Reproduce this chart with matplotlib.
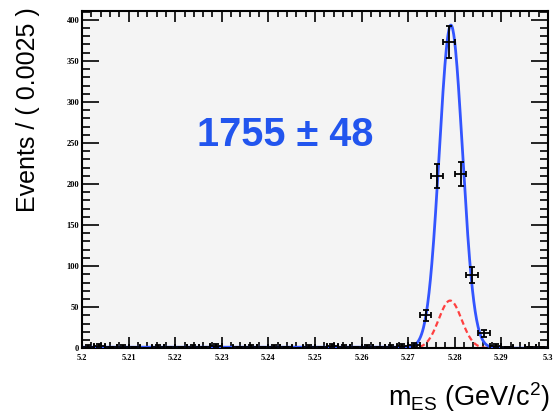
import numpy as np
import matplotlib
matplotlib.use('Agg')
import matplotlib.pyplot as plt
from matplotlib.ticker import MultipleLocator, FixedLocator

plt.rcParams['font.family'] = ['Liberation Sans', 'DejaVu Sans']
plt.rcParams['mathtext.default'] = 'regular'

# binned data: 40 bins of 0.0025 between 5.20 and 5.30
bin_lo = 5.20
bin_width = 0.0025
counts = [2, 3, 1, 2, 1, 0, 2, 1, 1, 2, 1, 3, 0, 1, 2, 1, 2, 1, 0, 2,
          1, 3, 2, 1, 2, 1, 2, 3, 4, 40, 210, 373, 212, 89, 18, 3, 1, 0, 1, 1]

x_ticks = [5.20, 5.21, 5.22, 5.23, 5.24, 5.25, 5.26, 5.27, 5.28, 5.29, 5.30]
x_ticklabels = ['5.2', '5.21', '5.22', '5.23', '5.24', '5.25', '5.26', '5.27', '5.28', '5.29', '5.3']
y_ticks = [0, 50, 100, 150, 200, 250, 300, 350, 400]

# fit result
sig_mean, sig_sigma, sig_peak = 5.2792, 0.00250, 335.0
pk_mean, pk_sigma, pk_peak = 5.2790, 0.00245, 58.0
argus_end, argus_c, argus_level = 5.29, -20.0, 1.2
yield_text = "1755 ± 48"

centers = bin_lo + bin_width * (np.arange(len(counts)) + 0.5)
counts = np.array(counts, dtype=float)
errs = np.sqrt(counts)

fig = plt.figure(figsize=(5.58, 4.16), dpi=100)
ax = fig.add_axes([0.147, 0.163, 0.835, 0.811])
ax.set_facecolor('#f4f4f4')

x = np.linspace(5.2, 5.3, 1000)
peaking = pk_peak * np.exp(-0.5 * ((x - pk_mean) / pk_sigma) ** 2)
t = np.clip(1 - (x / argus_end) ** 2, 0, None)
t0 = 1 - (5.2 / argus_end) ** 2
argus = argus_level * (x / 5.2) * np.sqrt(t / t0) * np.exp(argus_c * (t - t0))
total = sig_peak * np.exp(-0.5 * ((x - sig_mean) / sig_sigma) ** 2) + peaking + argus

ax.plot(x, total, color='#3355ff', lw=2.0, zorder=3)
ax.plot(x, peaking, color='#ff4040', lw=1.6, ls=(0, (2.5, 1.5)), zorder=2)
ax.errorbar(centers, counts, yerr=errs, xerr=bin_width / 2, fmt='none',
            ecolor='black', elinewidth=1.3, capsize=2, capthick=1.3, zorder=4)

ax.set_xlim(5.2, 5.3)
ax.set_ylim(0, 411)
ax.xaxis.set_major_locator(FixedLocator(x_ticks))
ax.xaxis.set_minor_locator(MultipleLocator(0.002))
ax.yaxis.set_major_locator(FixedLocator(y_ticks))
ax.yaxis.set_minor_locator(MultipleLocator(10))
ax.set_xticklabels(x_ticklabels)
ax.set_yticklabels([str(v) for v in y_ticks])
ax.tick_params(which='both', direction='in', top=True, right=True, width=1.2)
ax.tick_params(which='major', length=12)
ax.tick_params(which='minor', length=6)
ax.tick_params(axis='x', which='major', length=8)
ax.tick_params(axis='x', which='minor', length=4)
ax.tick_params(labelsize=6, pad=2)
ax.tick_params(axis='x', pad=4)
for lab in ax.get_xticklabels() + ax.get_yticklabels():
    lab.set_family('Liberation Serif')
    lab.set_fontweight('bold')
for sp in ax.spines.values():
    sp.set_linewidth(1.5)

fig.text(0.05, 0.736, 'Events / ( 0.0025 )', rotation=90, fontsize=18,
         ha='center', va='center')
fig.text(0.986, 0.045, r'm$_{ES}$ (GeV/c$^2$)', fontsize=19.5,
         ha='right', va='center')
ax.text(0.436, 0.632, yield_text, transform=ax.transAxes, fontsize=28.5,
        fontweight='bold', color='#2255ee', ha='center', va='center')

fig.savefig('out.png', dpi=100)
